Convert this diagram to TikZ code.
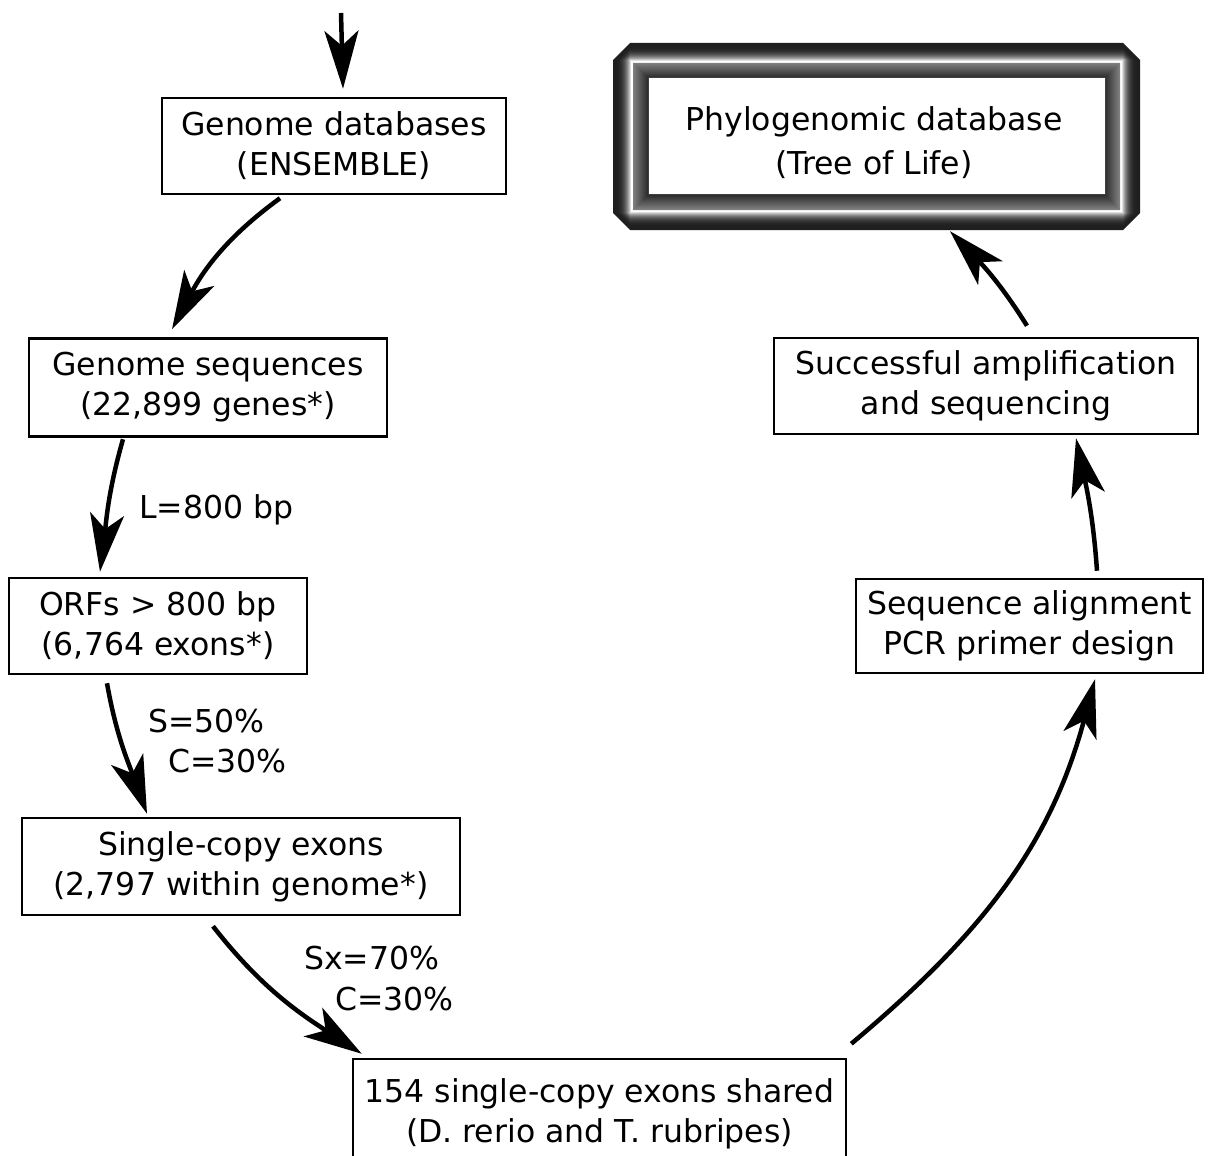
\documentclass[tikz,border=0pt]{standalone}
\usepackage{fontspec}
\setmainfont{DejaVu Sans}
\usetikzlibrary{arrows.meta}
\tikzset{
  txt/.style={font=\fontsize{31.5}{40}\selectfont, inner sep=0pt},
  box/.style={draw, line width=2.5pt, align=center, font=\fontsize{31.5}{40}\selectfont, inner sep=0pt},
  flow/.style={line width=4.5pt, -{Stealth[length=58pt,width=34pt,inset=15pt]}},
}
\begin{document}
\begin{tikzpicture}[x=1pt,y=1pt]
\useasboundingbox (0,0) rectangle (1208,-1156);
\clip (0,0) rectangle (1208,-1156);

% boxes
\node[box, minimum width=344pt, minimum height=96pt] (gdb) at (334,-146) {Genome databases\\(ENSEMBLE)};
\node[box, minimum width=358pt, minimum height=98pt] (gseq) at (208,-387.5) {Genome sequences\\(22,899 genes*)};
\node[box, minimum width=298pt, minimum height=96pt] (orf) at (158,-626) {ORFs > 800 bp\\(6,764 exons*)};
\node[box, minimum width=438pt, minimum height=97pt] (sce) at (241,-866.5) {Single-copy exons\\(2,797 within genome*)};
\node[box, minimum width=493pt, minimum height=110pt] (shared) at (599.5,-1114) {154 single-copy exons shared\\(D. rerio and T. rubripes)};
\node[box, minimum width=347pt, minimum height=94pt] (seqal) at (1029.5,-626) {Sequence alignment\\PCR primer design};
\node[box, minimum width=424pt, minimum height=96pt] (succ) at (986,-386) {Successful amplification\\and sequencing};

% phylogenomic framed box
\foreach \d in {0,...,34}{
  \pgfmathsetmacro{\c}{max(17-\d,0)}
  \pgfmathsetmacro{\f}{\d<19 ? 12+88*(\d/18)^3 : (\d<20 ? 100 : 50-32*(\d-20)/14)}
  \fill[white!\f!black] (613+\d+\c,-43-\d) -- (1140-\d-\c,-43-\d) -- (1140-\d,-43-\d-\c)
    -- (1140-\d,-230+\d+\c) -- (1140-\d-\c,-230+\d) -- (613+\d+\c,-230+\d)
    -- (613+\d,-230+\d+\c) -- (613+\d,-43-\d-\c) -- cycle;
}
\fill[white, draw=black!75, line width=1pt] (648,-78) rectangle (1105,-194);
\node[minimum width=527pt, minimum height=187pt, inner sep=0pt] (phylo) at (876.5,-136.5) {};
\node[txt, align=center, font=\fontsize{31.5}{44}\selectfont] (phylotext) at (874,-143) {Phylogenomic database\\(Tree of Life)};

% labels
\node[txt, anchor=base west] (lab1) at (139,-518) {L=800 bp};
\node[txt, anchor=base west] (lab2) at (148,-732) {S=50\%};
\node[txt, anchor=base west] (lab3) at (168,-772) {C=30\%};
\node[txt, anchor=base west] (lab4) at (304,-969) {Sx=70\%};
\node[txt, anchor=base west] (lab5) at (335,-1010) {C=30\%};

% connectors
\coordinate (top) at (341,-13);
\draw[flow] (top) -- ([xshift=9pt,yshift=8pt]gdb.north);
\draw[flow] ([xshift=-54pt,yshift=-3pt]gdb.south) to[out=216,in=62] ([xshift=-36pt,yshift=8pt]gseq.north);
\draw[flow] ([xshift=-85pt,yshift=-1.5pt]gseq.south) to[out=254,in=83] ([xshift=-58pt,yshift=5pt]orf.north);
\draw[flow] ([xshift=-51pt,yshift=-8pt]orf.south) to[out=280,in=110] ([xshift=-94pt,yshift=3pt]sce.north);
\draw[flow] ([xshift=-28pt,yshift=-10pt]sce.south) to[out=308,in=147] ([xshift=10pt,yshift=4pt]shared.north west);
\draw[flow] ([xshift=4pt,yshift=14pt]shared.north east) to[out=40,in=255] ([xshift=65.5pt,yshift=-5pt]seqal.south);
\draw[flow] ([xshift=67.5pt,yshift=7pt]seqal.north) to[out=94,in=282] ([xshift=90pt,yshift=-3pt]succ.south);
\draw[flow] ([xshift=41pt,yshift=11pt]succ.north) to[out=122,in=314] ([xshift=73.5pt,yshift=-1pt]phylo.south);
\end{tikzpicture}
\end{document}
